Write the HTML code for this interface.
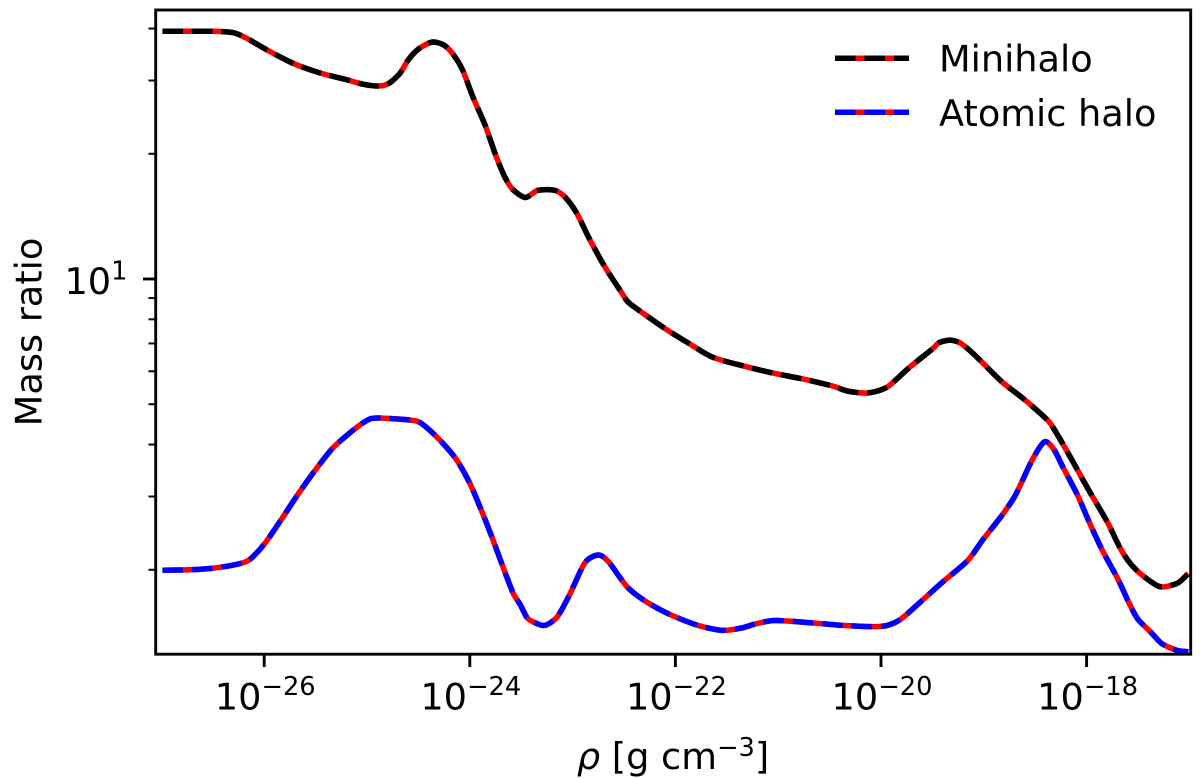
<!DOCTYPE html>
<html lang="en">
<head>
<meta charset="utf-8">
<title>Mass ratio vs density</title>
<style>
html,body{margin:0;padding:0;background:#fff;}
svg{display:block;}
text{font-family:"DejaVu Sans","Liberation Sans",sans-serif;fill:#000;}
</style>
</head>
<body>
<svg id="chart" xmlns="http://www.w3.org/2000/svg" width="1200" height="778" viewBox="0 0 1200 778">
  <defs>
    <clipPath id="plot-clip"><rect x="155.7" y="10" width="1035" height="644.2"></rect></clipPath>
  </defs>
  <rect x="0" y="0" width="1200" height="778" fill="#fff"></rect>
  <g id="series-layer" clip-path="url(#plot-clip)"></g>
  <g id="tick-layer"></g>
  <rect x="155.7" y="10" width="1035" height="644.2" fill="none" stroke="#000" stroke-width="2.9"></rect>
  <text transform="translate(41.5,332) rotate(-90)" text-anchor="middle" font-size="36.7">Mass ratio</text>
  <text x="673" y="769" text-anchor="middle" font-size="36.7"><tspan font-style="italic">ρ</tspan> [g cm<tspan dy="-13" font-size="25.7">−3</tspan><tspan dy="13">]</tspan></text>
  <g>
    <line x1="835" x2="909" y1="58.3" y2="58.3" stroke="#ff0000" stroke-width="5.5"></line>
    <line x1="835" x2="909" y1="58.3" y2="58.3" stroke="#000000" stroke-width="5.5" stroke-dasharray="20.6 8.9"></line>
    <text x="939" y="71.5" font-size="36.7">Minihalo</text>
    <line x1="835" x2="909" y1="112.3" y2="112.3" stroke="#ff0000" stroke-width="5.5"></line>
    <line x1="835" x2="909" y1="112.3" y2="112.3" stroke="#0000ff" stroke-width="5.5" stroke-dasharray="20.6 8.9"></line>
    <text x="939" y="126" font-size="36.7">Atomic halo</text>
  </g>
</svg>
<script>
// log10 of density for each sampled point
const miniLogRho = [-26.99,-26.72,-26.50,-26.30,-26.17,-25.97,-25.72,-25.46,-25.19,-25.04,-24.89,-24.79,-24.68,-24.60,-24.50,-24.37,-24.26,-24.17,-24.07,-23.97,-23.85,-23.75,-23.66,-23.58,-23.46,-23.35,-23.25,-23.16,-23.07,-22.96,-22.83,-22.68,-22.52,-22.46,-22.32,-22.08,-21.86,-21.64,-21.34,-21.05,-20.76,-20.47,-20.33,-20.13,-19.94,-19.73,-19.50,-19.44,-19.33,-19.23,-19.13,-19.02,-18.82,-18.60,-18.38,-18.31,-18.23,-18.09,-17.97,-17.80,-17.68,-17.60,-17.51,-17.41,-17.31,-17.24,-17.11,-17.01];
const miniRatio = [39.4,39.4,39.4,39.1,37.9,35.5,33.0,31.3,30.1,29.4,29.1,29.5,31.2,33.6,35.7,37.1,36.6,34.9,31.8,27.4,23.4,19.9,17.6,16.4,15.7,16.3,16.4,16.3,15.7,14.4,12.4,10.63,9.25,8.80,8.29,7.54,6.98,6.49,6.18,5.94,5.75,5.53,5.38,5.32,5.50,6.11,6.79,7.02,7.13,7.02,6.71,6.32,5.65,5.12,4.58,4.33,4.01,3.48,3.08,2.61,2.27,2.11,1.99,1.90,1.83,1.82,1.86,1.96];
const atomicLogRho = [-26.99,-26.72,-26.50,-26.30,-26.18,-26.11,-25.99,-25.83,-25.67,-25.50,-25.33,-25.11,-24.97,-24.85,-24.58,-24.48,-24.32,-24.14,-24.00,-23.88,-23.78,-23.68,-23.58,-23.51,-23.44,-23.36,-23.27,-23.15,-23.03,-22.88,-22.75,-22.65,-22.47,-22.29,-22.05,-21.78,-21.54,-21.35,-21.23,-21.03,-20.66,-20.37,-20.09,-19.94,-19.81,-19.62,-19.40,-19.16,-19.01,-18.82,-18.69,-18.53,-18.41,-18.32,-18.23,-18.09,-17.97,-17.84,-17.70,-17.58,-17.50,-17.38,-17.27,-17.12,-17.01];
const atomicRatio = [1.995,2.00,2.017,2.053,2.091,2.15,2.32,2.65,3.04,3.48,3.93,4.38,4.61,4.63,4.58,4.51,4.17,3.71,3.23,2.75,2.38,2.04,1.76,1.65,1.53,1.49,1.47,1.54,1.74,2.08,2.17,2.09,1.82,1.68,1.56,1.47,1.43,1.45,1.48,1.51,1.49,1.47,1.46,1.47,1.52,1.67,1.87,2.10,2.36,2.71,3.03,3.67,4.06,3.90,3.53,3.03,2.59,2.21,1.91,1.65,1.52,1.42,1.33,1.28,1.27];
const xTickExponents = [-26,-24,-22,-20,-18];
const xTickSuperscripts = ["−26","−24","−22","−20","−18"];
const yMajorTicks = [10];
const yMajorSuperscripts = ["1"];
const yMinorTicks = [2,3,4,5,6,7,8,9,20,30,40];

const SVG_NS = "http://www.w3.org/2000/svg";
function xScale(logRho){ return 264.2 + (logRho + 26) * 102.8; }
function yScale(ratio){ return 279 - (Math.log10(ratio) - 1) * 416; }
function make(tag, attrs, parent){
  const el = document.createElementNS(SVG_NS, tag);
  for (const k in attrs) el.setAttribute(k, attrs[k]);
  parent.appendChild(el);
  return el;
}
function pathFrom(xs, ys){
  const pts = xs.map(function(x, i){ return [xScale(x), yScale(ys[i])]; });
  let d = "M" + pts[0][0].toFixed(2) + " " + pts[0][1].toFixed(2);
  const k = 0.13;
  for (let i = 0; i < pts.length - 1; i++){
    const p0 = pts[Math.max(i - 1, 0)];
    const p1 = pts[i];
    const p2 = pts[i + 1];
    const p3 = pts[Math.min(i + 2, pts.length - 1)];
    const c1x = p1[0] + (p2[0] - p0[0]) * k;
    const c1y = p1[1] + (p2[1] - p0[1]) * k;
    const c2x = p2[0] - (p3[0] - p1[0]) * k;
    const c2y = p2[1] - (p3[1] - p1[1]) * k;
    d += " C" + c1x.toFixed(2) + " " + c1y.toFixed(2) + " " + c2x.toFixed(2) + " " + c2y.toFixed(2) + " " + p2[0].toFixed(2) + " " + p2[1].toFixed(2);
  }
  return d;
}
const seriesLayer = document.getElementById("series-layer");
const tickLayer = document.getElementById("tick-layer");

function drawSeries(xs, ys, color, label){
  const d = pathFrom(xs, ys);
  const under = make("path", {d: d, fill: "none", stroke: "#ff0000", "stroke-width": 5.5, "stroke-linejoin": "round"}, seriesLayer);
  
  
  const over = make("path", {d: d, fill: "none", stroke: color, "stroke-width": 5.5, "stroke-linejoin": "round", "stroke-linecap": "butt", "stroke-dasharray": "20.6 8.9"}, seriesLayer);
  
  
}
drawSeries(miniLogRho, miniRatio, "#000000", "minihalo");
drawSeries(atomicLogRho, atomicRatio, "#0000ff", "atomic-halo");

xTickExponents.forEach(function(e, i){
  const px = xScale(e);
  const tick = make("line", {x1: px, x2: px, y1: 654, y2: 667, stroke: "#000", "stroke-width": 2.9}, tickLayer);
  
  
  const t = make("text", {x: px + 1, y: 709.3, "text-anchor": "middle", "font-size": 36.7}, tickLayer);
  
  
  const base = make("tspan", {}, t);
  base.textContent = "10";
  const sup = make("tspan", {dy: -14.3, "font-size": 25.7}, t);
  sup.textContent = xTickSuperscripts[i];
});

yMajorTicks.forEach(function(v, i){
  const py = yScale(v);
  const tick = make("line", {x1: 143, x2: 155.7, y1: py, y2: py, stroke: "#000", "stroke-width": 2.9}, tickLayer);
  
  
  const t = make("text", {x: 127.5, y: py + 15, "text-anchor": "end", "font-size": 36.7}, tickLayer);
  
  
  const base = make("tspan", {}, t);
  base.textContent = "10";
  const sup = make("tspan", {dy: -14.3, "font-size": 25.7}, t);
  sup.textContent = yMajorSuperscripts[i];
});

yMinorTicks.forEach(function(v){
  const py = yScale(v);
  const tick = make("line", {x1: 148.5, x2: 155.7, y1: py, y2: py, stroke: "#000", "stroke-width": 2}, tickLayer);
  
  
});
</script>
</body>
</html>
